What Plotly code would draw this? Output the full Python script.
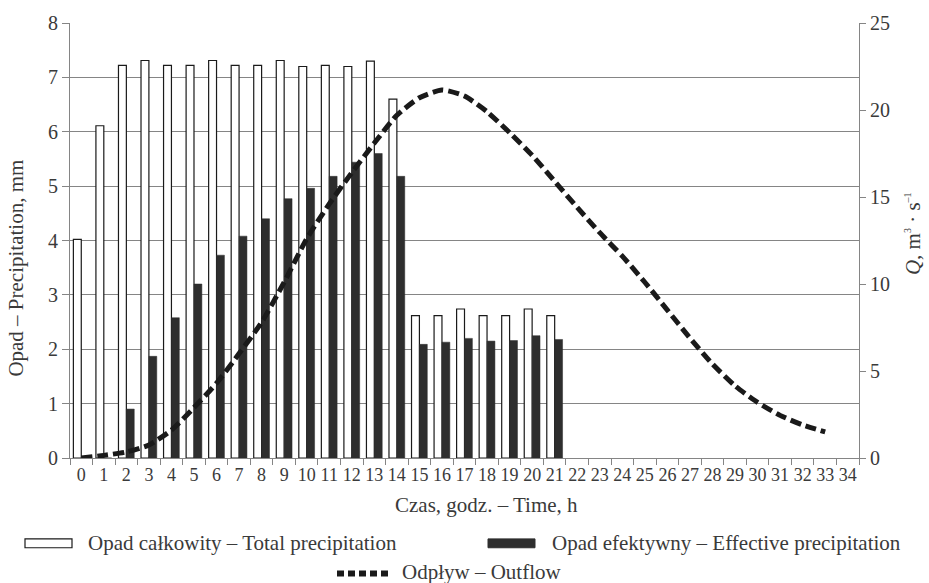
import plotly.graph_objects as go

# ---------------- data ----------------
hours = list(range(35))
hour_labels = [str(h) for h in hours]

precip_hours = list(range(22))
total_precip = [4.02, 6.11, 7.22, 7.31, 7.22, 7.22, 7.31, 7.22, 7.22, 7.31, 7.20,
                7.22, 7.20, 7.30, 6.60, 2.62, 2.62, 2.74, 2.62, 2.62, 2.74, 2.62]
effective_precip = [0.0, 0.0, 0.90, 1.87, 2.58, 3.20, 3.73, 4.08, 4.40, 4.77, 4.96,
                    5.18, 5.44, 5.60, 5.18, 2.09, 2.13, 2.20, 2.15, 2.16, 2.25, 2.18]

outflow_hours = list(range(34))
outflow = [0.0, 0.15, 0.35, 0.75, 1.6, 2.9, 4.3, 6.0, 7.8, 10.1, 12.6, 14.6, 16.4,
           18.1, 19.7, 20.7, 21.15, 20.8, 19.9, 18.7, 17.4, 15.9, 14.4, 12.95, 11.6,
           10.1, 8.5, 6.9, 5.4, 4.15, 3.2, 2.45, 1.9, 1.5]

left_ticks = list(range(0, 9))
right_ticks = [0, 5, 10, 15, 20, 25]

label_total = "Opad całkowity – Total precipitation"
label_eff = "Opad efektywny – Effective precipitation"
label_out = "Odpływ – Outflow"

# ---------------- style ----------------
FONT = "Liberation Serif, Times New Roman, serif"
TXT = "#3a3a3a"
GRID = "#858585"
DARK = "#2e2e2e"

fig = go.Figure()
fig.add_trace(go.Bar(
    x=[hour_labels[h] for h in precip_hours], y=total_precip, name=label_total,
    marker=dict(color="white", line=dict(color="#1a1a1a", width=1.2)),
    showlegend=False,
))
fig.add_trace(go.Bar(
    x=[hour_labels[h] for h in precip_hours], y=effective_precip, name=label_eff,
    marker=dict(color=DARK, line=dict(color=DARK, width=0.5)),
    showlegend=False,
))
fig.add_trace(go.Scatter(
    x=[hour_labels[h] for h in outflow_hours], y=outflow, name=label_out,
    mode="lines", line=dict(color="#1a1a1a", width=5, dash="11px,5px", shape="spline", smoothing=0.6),
    yaxis="y2", showlegend=False,
))

fig.update_layout(
    width=929, height=583,
    margin=dict(l=70, r=70, t=17, b=125),
    paper_bgcolor="white", plot_bgcolor="white",
    font=dict(family=FONT, size=21, color=TXT),
    barmode="group", bargap=0.30, bargroupgap=0.0,
    xaxis=dict(
        type="category", categoryorder="array", categoryarray=hour_labels,
        range=[-0.5, 34.5], tickmode="array", tickvals=hour_labels, ticktext=hour_labels,
        tickson="boundaries", ticks="outside", ticklen=6, tickcolor=GRID,
        showline=True, linecolor=GRID, linewidth=1.2, showgrid=False,
        tickfont=dict(family=FONT, size=18, color=TXT), tickangle=0,
    ),
    yaxis=dict(
        range=[0, 8], tickvals=left_ticks, ticks="outside", ticklen=7, tickcolor=GRID,
        showline=True, linecolor=GRID, linewidth=1.2,
        showgrid=True, gridcolor=GRID, gridwidth=1.2, zeroline=False,
        tickfont=dict(family=FONT, size=20, color=TXT),
    ),
    yaxis2=dict(
        overlaying="y", side="right", range=[0, 25], tickvals=right_ticks,
        ticks="outside", ticklen=6, tickcolor=GRID,
        showline=True, linecolor=GRID, linewidth=1.2, showgrid=False, zeroline=False,
        tickfont=dict(family=FONT, size=20, color=TXT),
    ),
)

def px_x(p):
    return (p - 70) / 789.0

def px_y(p):
    return (458 - p) / 441.0

q_title = ("<i>Q</i>, m<sup><span style='font-size:10px'>3</span></sup> · "
           "s<sup><span style='font-size:10px'>–1</span></sup>")

annotations = [
    dict(text="Czas, godz. – Time, h", x=px_x(486), y=px_y(506), xref="paper", yref="paper",
         showarrow=False, xanchor="center", yanchor="middle", font=dict(size=21)),
    dict(text="Opad – Precipitation, mm", x=px_x(16), y=px_y(266), xref="paper", yref="paper",
         showarrow=False, textangle=-90, xanchor="center", yanchor="middle", font=dict(size=21)),
    dict(text=q_title, x=px_x(913), y=px_y(230),
         xref="paper", yref="paper", showarrow=False, textangle=-90,
         xanchor="center", yanchor="middle", font=dict(size=21)),
    dict(text=label_total, x=px_x(86), y=px_y(544.5), xref="paper", yref="paper",
         showarrow=False, xanchor="left", yanchor="middle", font=dict(size=21)),
    dict(text=label_eff, x=px_x(550), y=px_y(544.5), xref="paper", yref="paper",
         showarrow=False, xanchor="left", yanchor="middle", font=dict(size=21)),
    dict(text=label_out, x=px_x(400), y=px_y(574), xref="paper", yref="paper",
         showarrow=False, xanchor="left", yanchor="middle", font=dict(size=21)),
]
fig.update_layout(annotations=annotations)

shapes = [
    dict(type="rect", xref="paper", yref="paper", x0=px_x(25), x1=px_x(72),
         y0=px_y(549), y1=px_y(540), fillcolor="white", line=dict(color="#1a1a1a", width=1.2)),
    dict(type="rect", xref="paper", yref="paper", x0=px_x(488), x1=px_x(535),
         y0=px_y(549), y1=px_y(540), fillcolor=DARK, line=dict(color=DARK, width=1)),
    dict(type="line", xref="paper", yref="paper", x0=px_x(337), x1=px_x(392),
         y0=px_y(575), y1=px_y(575), line=dict(color="#1a1a1a", width=6, dash="7px,4px")),
]
fig.update_layout(shapes=shapes)

fig.write_html("out.html")
